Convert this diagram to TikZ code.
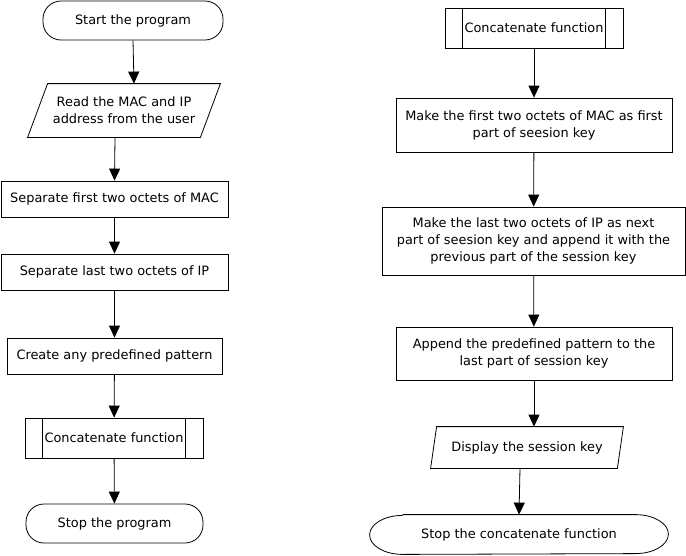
\documentclass[tikz,border=0pt]{standalone}
\usepackage{fontspec}
\setmainfont{DejaVu Sans}
\usetikzlibrary{arrows.meta}
\begin{document}
\begin{tikzpicture}[x=1pt,y=1pt,line width=0.8pt]
			\tikzstyle{every node}+=[inner sep=0pt,align=center,font=\fontsize{12.9}{17}\selectfont]
			\tikzstyle{terminal}=[draw,rectangle,rounded corners=18pt,minimum height=39pt]
			\tikzstyle{process}=[draw,rectangle]
			\tikzstyle{predef}=[draw,rectangle,minimum width=178pt,minimum height=40pt]
			\tikzstyle{inout}=[rectangle,minimum width=192pt]
			\tikzstyle{flow}=[-{Triangle[width=11pt,length=12pt]}]
			\useasboundingbox (0,0) rectangle (686,-555);
			\node [terminal,minimum width=180pt] (start) at (133,-20.5) {Start the program};
			\node [inout,minimum height=53pt] (read) at (124,-110.5) {Read the MAC and IP\\address from the user};
			\node [process,minimum width=227pt,minimum height=36pt] (sepmac) at (114.5,-199) {Separate first two octets of MAC};
			\node [process,minimum width=227pt,minimum height=36pt] (sepip) at (114.5,-272) {Separate last two octets of IP};
			\node [process,minimum width=215pt,minimum height=36pt] (pattern) at (114.5,-356) {Create any predefined pattern};
			\node [predef] (concat) at (114,-438) {Concatenate function};
			\node [terminal,minimum width=177pt] (stop) at (114.5,-523.5) {Stop the program};

			\node [predef] (rconcat) at (534,-28) {Concatenate function};
			\node [process,minimum width=276pt,minimum height=54pt] (first) at (534,-125) {Make the first two octets of MAC as first\\part of seesion key};
			\node [process,minimum width=303pt,minimum height=68pt] (last) at (533.5,-241) {Make the last two octets of IP as next\\part of seesion key and append it with the\\previous part of the session key};
			\node [process,minimum width=276pt,minimum height=53pt] (append) at (534,-353.5) {Append the predefined pattern to the\\last part of session key};
			\node [inout,minimum height=41pt] (display) at (527,-447.5) {Display the session key};
			\node [minimum width=298pt,minimum height=39pt] (rstop) at (519,-534.5) {Stop the concatenate function};

			\draw ([xshift=20pt]read.north west) -- (read.north east) -- ([xshift=-20pt]read.south east) -- (read.south west) -- cycle;
			\draw ([xshift=6pt]display.north west) -- (display.north east) -- ([xshift=-6pt]display.south east) -- (display.south west) -- cycle;
			\draw ([xshift=33pt]rstop.north west) -- ([xshift=-33pt]rstop.north east) arc [start angle=90,end angle=-90,x radius=33pt,y radius=19.5pt] -- ([xshift=33pt]rstop.south west) arc [start angle=270,end angle=90,x radius=33pt,y radius=19.5pt];

			\draw ([xshift=18pt]concat.north west) -- ([xshift=18pt]concat.south west);
			\draw ([xshift=-18pt]concat.north east) -- ([xshift=-18pt]concat.south east);
			\draw ([xshift=18pt]rconcat.north west) -- ([xshift=18pt]rconcat.south west);
			\draw ([xshift=-18pt]rconcat.north east) -- ([xshift=-18pt]rconcat.south east);

			\draw [flow] (start.south) -- ([xshift=10pt]read.north);
			\draw [flow] ([xshift=-9pt]read.south) -- (sepmac.north);
			\draw [flow] (sepmac) -- (sepip);
			\draw [flow] (sepip) -- (pattern);
			\draw [flow] (pattern) -- (concat);
			\draw [flow] (concat) -- (stop);

			\draw [flow] (rconcat) -- (first);
			\draw [flow] (first) -- (last);
			\draw [flow] (last) -- (append);
			\draw [flow] (append.south) -- (append.south |- display.north);
			\draw [flow] ([xshift=-7pt]display.south) -- (rstop.north);
		\end{tikzpicture}
\end{document}
